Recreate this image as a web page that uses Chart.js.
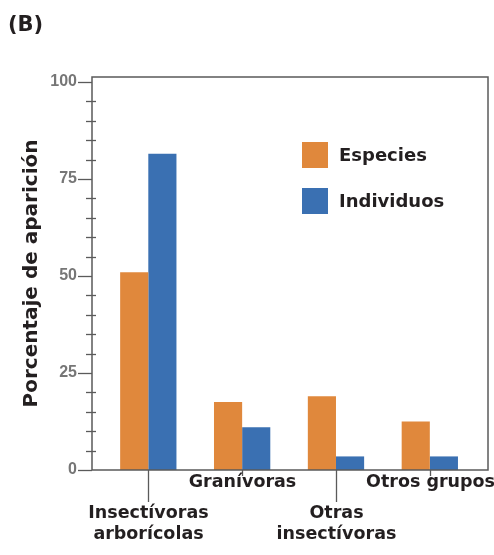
<!DOCTYPE html>
<html>
<head>
<meta charset="utf-8">
<script src="https://cdn.jsdelivr.net/npm/chart.js@4"></script>
<style>
  body { margin: 0; background: #fff; }
</style>
</head>
<body>
<canvas id="aparicionChart" width="494" height="555"></canvas>
<script>
// grupos tróficos (eje X), cada etiqueta partida en líneas
const categorias = [['Insectívoras', 'arborícolas'], ['Granívoras'], ['Otras', 'insectívoras'], ['Otros grupos']];
const especies = [51, 17.5, 19, 12.5];
const individuos = [81.5, 11, 3.5, 3.5];
const yTicks = [0, 25, 50, 75, 100];

const naranja = '#e0883c';
const azul = '#3a70b2';
const oscuro = '#231f20';
const eje = '#5a5a5a';
const letra = '"DejaVu Sans"';

// dibuja marco, marcas, etiquetas del eje X, leyenda y la letra del panel
const decoracion = {
  id: 'decoracion',
  afterDraw(chart) {
    const c = chart.ctx;
    const a = chart.chartArea;
    const x = chart.scales.x;
    const y = chart.scales.y;
    c.save();
    c.strokeStyle = eje;
    c.lineWidth = 1.5;
    c.strokeRect(a.left, a.top, a.right - a.left, a.bottom - a.top);

    // marcas del eje Y cada 5
    c.lineWidth = 1.3;
    for (let v = 0; v <= 100; v += 5) {
      const py = Math.round(y.getPixelForValue(v)) + 0.5;
      c.beginPath();
      if (v % 25 === 0) { c.moveTo(a.left - 14, py); c.lineTo(a.left, py); }
      else { c.moveTo(a.left - 6, py); c.lineTo(a.left + 4, py); }
      c.stroke();
    }

    // etiquetas del eje X escalonadas
    c.font = 'bold 17.5px ' + letra;
    c.fillStyle = oscuro;
    c.textAlign = 'center';
    c.textBaseline = 'middle';
    categorias.forEach((lab, i) => {
      const px = Math.round(x.getPixelForValue(i)) + 0.5;
      const bajo = i % 2 === 0;
      c.beginPath();
      c.moveTo(px, a.bottom);
      c.lineTo(px, a.bottom + (bajo ? 32 : 6));
      c.stroke();
      lab.forEach((t, j) => {
        c.fillText(t, px, bajo ? a.bottom + 43 + j * 21 : a.bottom + 12);
      });
    });

    // leyenda
    c.textAlign = 'left';
    c.font = 'bold 18px ' + letra;
    chart.data.datasets.forEach((ds, i) => {
      const ly = 142 + i * 46;
      c.fillStyle = ds.backgroundColor;
      c.fillRect(302, ly, 26, 26);
      c.fillStyle = oscuro;
      c.fillText(ds.label, 339, ly + 14);
    });

    c.font = 'bold 21px ' + letra;
    c.fillText('(B)', 8, 26);
    c.restore();
  }
};

const ctx = document.getElementById('aparicionChart').getContext('2d');
new Chart(ctx, {
  type: 'bar',
  data: {
    datasets: [
      {
        label: 'Especies',
        data: especies.map((v, i) => ({ x: i, y: v })),
        backgroundColor: naranja
      },
      {
        label: 'Individuos',
        data: individuos.map((v, i) => ({ x: i, y: v })),
        backgroundColor: azul
      }
    ]
  },
  options: {
    responsive: false,
    animation: false,
    layout: { padding: { top: 77, right: 6, bottom: 85, left: 0 } },
    datasets: { bar: { categoryPercentage: 0.6, barPercentage: 1.0 } },
    plugins: { legend: { display: false }, tooltip: { enabled: false } },
    scales: {
      x: {
        type: 'linear',
        min: -0.6,
        max: 3.62,
        offset: false,
        display: false,
        afterBuildTicks: (s) => { s.ticks = categorias.map((_, i) => ({ value: i })); }
      },
      y: {
        min: 0,
        max: 101.3,
        afterBuildTicks: (s) => { s.ticks = yTicks.map(v => ({ value: v })); },
        afterFit: (s) => { s.width = 92; },
        grid: { display: false, drawTicks: false },
        border: { display: false },
        ticks: {
          padding: 15,
          color: '#767676',
          font: { family: '"Liberation Sans", Arial', size: 16, weight: 'bold' }
        },
        title: {
          display: true,
          text: 'Porcentaje de aparición',
          color: oscuro,
          font: { family: letra, size: 20, weight: 'bold' },
          padding: { top: 20, bottom: 0 }
        }
      }
    }
  },
  plugins: [decoracion]
});
</script>
</body>
</html>
